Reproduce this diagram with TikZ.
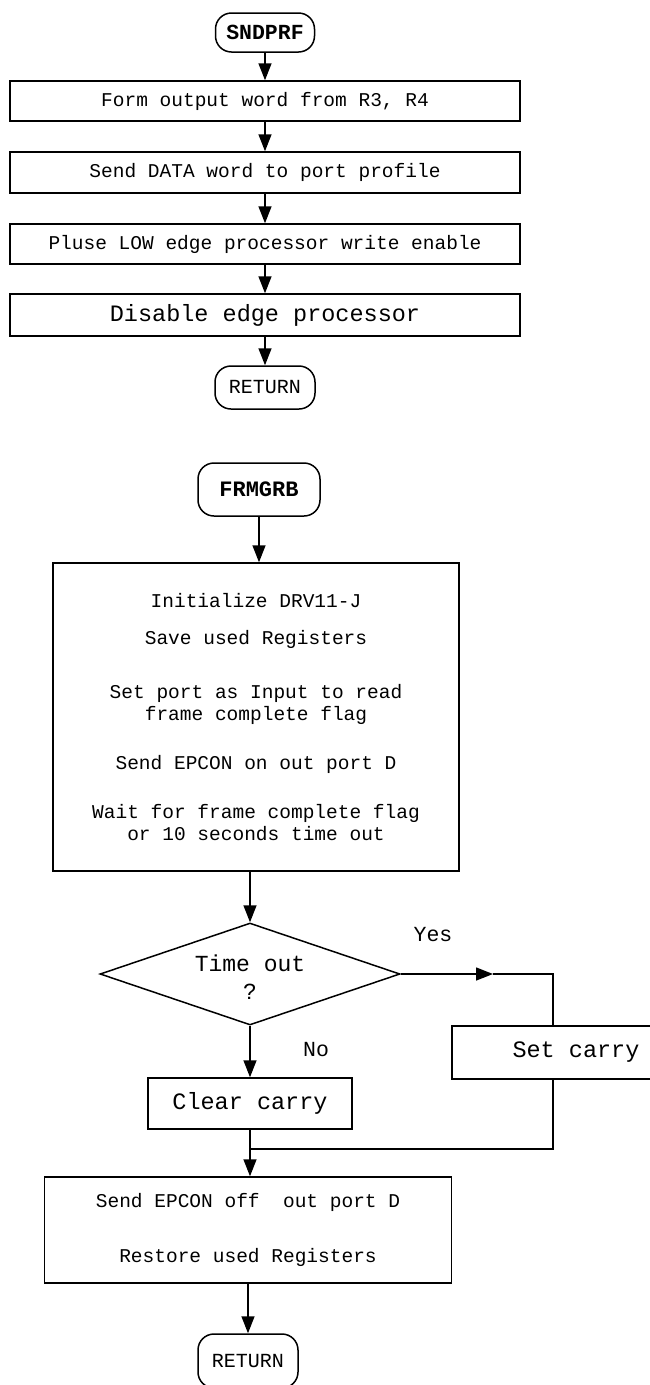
\documentclass[tikz,border=0pt]{standalone}
\usepackage{fontspec}
\newfontfamily\courier{Liberation Mono}
\usetikzlibrary{shapes.geometric,arrows.meta}
\begin{document}
\begin{tikzpicture}[x=1pt, y=-1pt, line width=1.5pt,
    box/.style={draw, rectangle, inner sep=0pt, align=center, font=\courier\fontsize{19.5}{22}\selectfont},
    bigfont/.style={font=\courier\fontsize{23.5}{28}\selectfont},
    term/.style={draw, rectangle, rounded corners=16pt, inner sep=0pt, font=\courier\fontsize{20}{24}\selectfont},
    lbl/.style={inner sep=0pt, font=\courier\fontsize{21.5}{24}\selectfont},
    arr/.style={-{Triangle[length=17pt,width=13pt]}}]
    \clip (0,0) rectangle (650,1385);

    % SNDPRF
    \node[term, minimum width=99pt, minimum height=39pt, font=\courier\bfseries\fontsize{21.5}{24}\selectfont] (S) at (265,32.5) {SNDPRF};
    \node[box, minimum width=510pt, minimum height=40pt] (B1) at (265,101) {Form output word from R3, R4};
    \node[box, minimum width=510pt, minimum height=41pt] (B2) at (265,172.5) {Send DATA word to port profile};
    \node[box, minimum width=510pt, minimum height=40pt] (B3) at (265,244) {Pluse LOW edge processor write enable};
    \node[box, bigfont, minimum width=510pt, minimum height=42pt] (B4) at (265,315) {Disable edge processor};
    \node[term, minimum width=100pt, minimum height=43pt] (R1) at (265,387.5) {RETURN};

    \draw[arr] (S) -- (B1);
    \draw[arr] (B1) -- (B2);
    \draw[arr] (B2) -- (B3);
    \draw[arr] (B3) -- (B4);
    \draw[arr] (B4) -- (R1);

    % FRMGRB
    \node[term, minimum width=122pt, minimum height=53pt, font=\courier\bfseries\fontsize{22}{24}\selectfont] (F) at (259,489.5) {FRMGRB};
    \node[box, minimum width=406pt, minimum height=308pt] (I) at (256,717) {Initialize DRV11-J\\[15pt]
        Save used Registers\\[32pt]
        Set port as Input to read\\ frame complete flag\\[27pt]
        Send EPCON on out port D\\[27pt]
        Wait for frame complete flag\\ or 10 seconds time out};
    \node[draw, diamond, aspect=3, inner sep=0pt, minimum width=300pt, minimum height=102pt,
        font=\courier\fontsize{23}{28}\selectfont] (D) at (250,974)
        {\raisebox{-6pt}[\height][\depth]{\begin{tabular}{@{}c@{}}Time out\\?\end{tabular}}};
    \node[box, bigfont, minimum width=248pt, minimum height=53pt] (SC) at (576,1052.5) {Set carry};
    \node[box, bigfont, minimum width=204pt, minimum height=51pt] (CC) at (250,1103.5) {Clear carry};
    \node[box, minimum width=407pt, minimum height=106pt] (E) at (248,1230) {Send EPCON off\ \ out port D\\[33pt]
        Restore used Registers};
    \node[term, minimum width=100pt, minimum height=54pt] (R2) at (248,1361) {RETURN};
    \node[lbl] (yes) at (433,935) {Yes};
    \node[lbl] (no) at (316,1050) {No};

    \coordinate (ya) at (493,974);
    \coordinate (yc) at (553,974);
    \coordinate (J) at (250,1149);

    \draw[arr] (F) -- (F |- I.north);
    \draw[arr] (D |- I.south) -- (D);
    \draw[arr] (D) -- (CC);
    \draw[arr] (D) -- (ya);
    \draw (ya) -- (yc) -- (yc |- SC.north);
    \draw (CC) -- (J);
    \draw (yc |- SC.south) -- (yc |- J) -- (J);
    \draw[arr] (J) -- (J |- E.north);
    \draw[arr] (E.south -| R2) -- (R2);

\end{tikzpicture}
\end{document}
